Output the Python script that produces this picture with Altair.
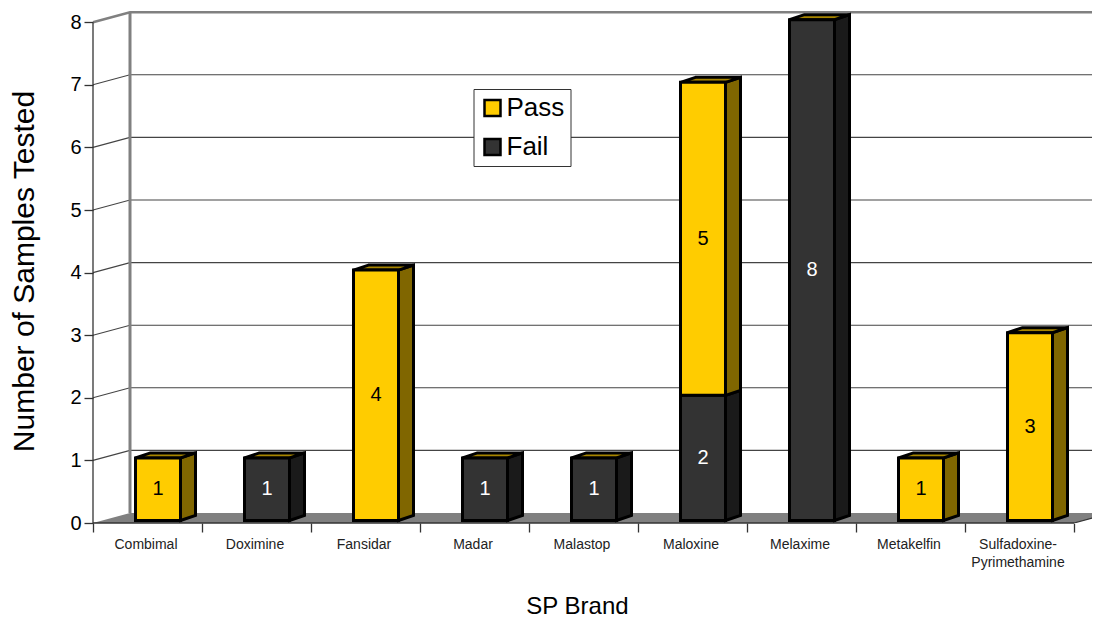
import altair as alt
import pandas as pd

categories = ["Combimal", "Doximine", "Fansidar", "Madar", "Malastop",
              "Maloxine", "Melaxime", "Metakelfin", "Sulfadoxine-\nPyrimethamine"]
fail_values = [0, 1, 0, 1, 1, 2, 8, 0, 0]
pass_values = [1, 0, 4, 0, 0, 5, 0, 1, 3]
series_names = ["Pass", "Fail"]
y_ticks = [0, 1, 2, 3, 4, 5, 6, 7, 8]
FONT = "Liberation Sans"

# depth geometry, in data units
WX, WY = 37 / 109, 10 / 62.6      # wall depth
BX, BY = 10.5 / 109, 2.5 / 62.6   # bar's shift into the depth
SX, SY = 15 / 109, 5 / 62.6       # bar's own depth
BW = 45 / 109
PW = 999
XMAX, YMAX = PW / 109, 515 / 62.6

front, side, top, labels = [], [], [], []
for i, cat in enumerate(categories):
    lo = 0
    for name, v in (("Fail", fail_values[i]), ("Pass", pass_values[i])):
        if v == 0:
            continue
        hi = lo + v
        x0 = i + 0.5 - BW / 2 + BX
        x1 = x0 + BW
        seg = f"{i}-{name}"
        front.append(dict(x=x0, x2=x1, y=lo + BY, y2=hi + BY, series=name))
        shade = "#806600" if name == "Pass" else "#1A1A1A"
        side.append(dict(x=x1, y=lo + BY, y2=hi + BY, seg=seg, shade=shade))
        side.append(dict(x=x1 + SX, y=lo + BY + SY, y2=hi + BY + SY, seg=seg, shade=shade))
        labels.append(dict(x=(x0 + x1) / 2, y=(lo + hi) / 2 + BY, text=str(v), series=name))
        lo = hi
    yt = lo + BY
    x0 = i + 0.5 - BW / 2 + BX
    top.append(dict(y=yt, x=x0, x2=x0 + BW, seg=i))
    top.append(dict(y=yt + SY, x=x0 + SX, x2=x0 + BW + SX, seg=i))

floor = [dict(y=0, x=0, x2=9), dict(y=WY, x=WX, x2=9 + WX)]
grid = []
for v in y_ticks[1:]:
    grid += [dict(x=0, y=v, g=v, o=0), dict(x=WX, y=v + WY, g=v, o=1), dict(x=XMAX, y=v + WY, g=v, o=2)]

xs = alt.Scale(domain=[0, XMAX], nice=False, zero=False)
ys = alt.Scale(domain=[0, YMAX], nice=False, zero=False)
X = lambda f="x": alt.X(f"{f}:Q", scale=xs, axis=None)
Y = lambda f="y": alt.Y(f"{f}:Q", scale=ys, axis=None, stack=None)

# walls and grid
thin = alt.Chart(pd.DataFrame([r for r in grid if r["g"] < 8])).mark_line(
    color="#444444", strokeWidth=1.1).encode(X(), Y(), detail="g:N", order="o:Q")
heavy = alt.Chart(pd.DataFrame([r for r in grid if r["g"] == 8])).mark_line(
    color="#808080", strokeWidth=2.5).encode(X(), Y(), order="o:Q")
wall = alt.Chart(pd.DataFrame([dict(x=WX, y=WY), dict(x=WX, y=8 + WY)])).mark_line(
    color="#808080", strokeWidth=3).encode(X(), Y())
floor_l = alt.Chart(pd.DataFrame(floor)).mark_area(color="#808080", orient="horizontal").encode(
    alt.Y("y:Q", scale=ys, axis=None, stack=None), alt.X("x:Q", scale=xs, axis=None), x2="x2:Q")

# axes and edges
y_axis = alt.Chart(pd.DataFrame(dict(y=[0, 8], x=[0, 0]))).mark_line(
    color="#333333", strokeWidth=1.3).encode(
    alt.X("x:Q", scale=xs, axis=None),
    alt.Y("y:Q", scale=ys, stack=None, axis=alt.Axis(
        orient="left", values=y_ticks, title="Number of Samples Tested", domain=False, grid=False,
        tickColor="#333333", tickSize=9, tickWidth=1.3, labelFontSize=20, labelPadding=3,
        labelColor="black", labelFont=FONT, titleFont=FONT, titleFontSize=30,
        titleFontWeight="normal", titleColor="black", titleX=-69, titleY=263,
        titleBaseline="middle", titleAnchor="middle")))
x_ticks = alt.Chart(pd.DataFrame(dict(x=[0, 9], y=[0, 0]))).mark_line(
    color="#333333", strokeWidth=1.3).encode(
    alt.X("x:Q", scale=xs, axis=alt.Axis(
        orient="bottom", values=list(range(10)), labels=False, title=None, domain=False, grid=False,
        tickColor="#333333", tickSize=9, tickWidth=1.3)),
    Y())
edge = alt.Chart(pd.DataFrame(dict(x=[9, 9 + WX], y=[0, WY]))).mark_line(
    color="#333333", strokeWidth=1.2, clip=True).encode(X(), Y())
cats_js = "[" + ",".join('"' + c.replace("\n", "|") + '"' for c in categories) + "]"
x_labels = alt.Chart(pd.DataFrame(dict(x=[i + 0.5 for i in range(9)], y=[0] * 9))).mark_point(opacity=0).encode(
    alt.X("x:Q", scale=xs, axis=alt.Axis(
        orient="bottom", values=[i + 0.5 for i in range(9)], ticks=False, domain=False, grid=False,
        labelExpr=f"split({cats_js}[floor(datum.value)], '|')",
        labelFont=FONT, labelFontSize=14, labelColor="#222222", labelPadding=14, labelOffset=-2,
        labelLineHeight=18, labelBaseline="top", labelOverlap=False, labelFlush=False,
        labelBound=False,
        title="SP Brand", titleFont=FONT, titleFontSize=24, titleFontWeight="normal",
        titleColor="black", titleX=484, titleY=83, titleBaseline="middle", titleAnchor="middle")),
    Y())

# bars
sides = alt.Chart(pd.DataFrame(side)).mark_area(
    orient="vertical", stroke="black", strokeWidth=3, strokeJoin="miter").encode(
    X(), Y(), y2="y2:Q", detail="seg:N", fill=alt.Fill("shade:N", scale=None))
tops = alt.Chart(pd.DataFrame(top)).mark_area(
    orient="horizontal", stroke="black", strokeWidth=3, fill="#A88600").encode(
    alt.Y("y:Q", scale=ys, axis=None, stack=None), alt.X("x:Q", scale=xs, axis=None),
    x2="x2:Q", detail="seg:N")
fronts = alt.Chart(pd.DataFrame(front)).mark_bar(stroke="black", strokeWidth=3).encode(
    X(), x2="x2:Q", y=Y(), y2="y2:Q",
    color=alt.Color("series:N", scale=alt.Scale(domain=series_names, range=["#FFCC00", "#333333"]),
                    legend=alt.Legend(
                        orient="none", legendX=380.5, legendY=81, title=None,
                        fillColor="white", strokeColor="#333333", padding=6,
                        symbolType="square", symbolSize=256, symbolStrokeColor="black",
                        symbolStrokeWidth=2.5, labelFont=FONT, labelFontSize=26,
                        labelColor="black", labelOffset=1, rowPadding=13, symbolOpacity=1)))
texts = alt.Chart(pd.DataFrame(labels)).mark_text(font=FONT, fontSize=20, baseline="middle").encode(
    X(), Y(), text="text:N",
    color=alt.condition(alt.datum.series == "Fail", alt.value("white"), alt.value("black")))

chart = alt.layer(
    floor_l, thin, heavy, wall, y_axis, x_ticks, x_labels, edge, sides, tops, fronts, texts
).resolve_axis(x="independent", y="independent").resolve_scale(color="independent").properties(
    width=PW, height=515, background="white",
    padding={"left": 85, "top": 0, "right": 0, "bottom": 94},
    autosize=alt.AutoSizeParams(type="none"),
).configure_view(stroke=None)

chart.save("out.html", embed_options={"renderer": "svg", "actions": False})
